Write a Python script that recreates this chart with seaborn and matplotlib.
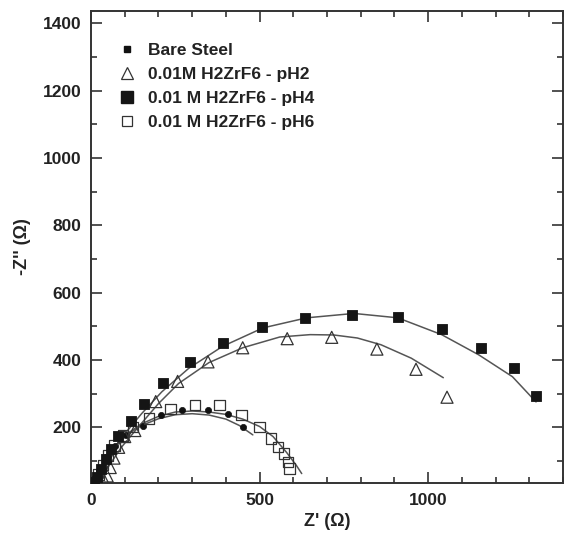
import matplotlib
matplotlib.use("Agg")
import matplotlib.pyplot as plt
from matplotlib.lines import Line2D
from matplotlib.ticker import MultipleLocator
import seaborn as sns
import pandas as pd

# ---- data ----
bare_x = [12, 25, 45, 70, 105, 153, 209, 271, 347, 406, 451]
bare_y = [40, 70, 110, 145, 178, 204, 235, 252, 252, 239, 199]

ph2_x = [40, 48, 57, 68, 82, 100, 130, 192, 257, 347, 450, 582, 714, 848, 964, 1056]
ph2_y = [40, 55, 80, 108, 140, 172, 190, 276, 336, 394, 436, 463, 467, 432, 372, 289]

ph4_x = [9, 19, 31, 45, 58, 80, 118, 157, 213, 293, 391, 508, 636, 775, 912, 1041, 1157, 1254, 1320]
ph4_y = [37, 52, 77, 105, 136, 175, 219, 270, 332, 394, 450, 497, 524, 532, 527, 492, 435, 375, 292]

ph6_x = [12, 22, 35, 50, 70, 95, 125, 172, 235, 309, 382, 447, 499, 534, 555, 572, 584, 589]
ph6_y = [40, 60, 88, 115, 145, 175, 200, 226, 254, 266, 266, 236, 201, 167, 141, 121, 97, 77]

# fitted curves
fit_bare_x = [20, 40, 70, 110, 150, 200, 250, 300, 350, 400, 440, 480]
fit_bare_y = [40, 90, 140, 180, 205, 225, 237, 240, 236, 224, 205, 177]

fit_ph2_x = [20, 50, 90, 140, 200, 260, 350, 450, 560, 650, 720, 790, 860, 950, 1045]
fit_ph2_y = [30, 80, 140, 200, 270, 330, 392, 436, 468, 475, 474, 465, 445, 405, 347]

fit_ph4_x = [0, 30, 60, 100, 150, 210, 290, 390, 510, 640, 780, 910, 1040, 1150, 1250, 1320]
fit_ph4_y = [30, 75, 125, 180, 240, 305, 375, 440, 495, 525, 538, 525, 475, 415, 350, 275]

fit_ph6_x = [10, 30, 60, 100, 150, 200, 250, 300, 350, 400, 450, 500, 540, 580, 610, 625]
fit_ph6_y = [35, 80, 130, 175, 210, 232, 245, 248, 245, 238, 224, 202, 172, 125, 85, 62]

labels = ["Bare Steel", "0.01M H2ZrF6 - pH2", "0.01 M H2ZrF6 - pH4", "0.01 M H2ZrF6 - pH6"]

x_ticks = [0, 500, 1000]
y_ticks = [200, 400, 600, 800, 1000, 1200, 1400]

# ---- style ----
sns.set_style("ticks")
plt.rcParams["font.family"] = ["Liberation Sans", "DejaVu Sans"]
plt.rcParams["font.weight"] = "bold"

fig = plt.figure(figsize=(5.66, 5.33), dpi=100)
ax = fig.add_axes([91 / 566, 1 - 483 / 533, 472 / 566, 472 / 533])

line_col = "#555555"
edge_col = "#1a1a1a"

for fx, fy in [(fit_bare_x, fit_bare_y), (fit_ph2_x, fit_ph2_y),
               (fit_ph4_x, fit_ph4_y), (fit_ph6_x, fit_ph6_y)]:
    sns.lineplot(x=fx, y=fy, sort=False, color=line_col, lw=1.1, ax=ax, zorder=2)

sns.scatterplot(x=bare_x, y=bare_y, marker="o", s=20, color="#111111",
                edgecolor="#111111", linewidth=0.5, ax=ax, zorder=3)
sns.scatterplot(x=ph2_x, y=ph2_y, marker="^", s=75, color=edge_col,
                facecolors="none", edgecolors="#333333", linewidth=0.9, ax=ax, zorder=3)
sns.scatterplot(x=ph6_x, y=ph6_y, marker="s", s=58, color=edge_col,
                facecolors="none", edgecolors="#333333", linewidth=0.9, ax=ax, zorder=3)
sns.scatterplot(x=ph4_x, y=ph4_y, marker="s", s=62, color="#151515",
                edgecolor="#151515", linewidth=0.6, ax=ax, zorder=4)

ax.set_xlim(0, 1400)
ax.set_ylim(34, 1437)
ax.set_xticks(x_ticks)
ax.set_yticks(y_ticks)
ax.xaxis.set_minor_locator(MultipleLocator(100))
ax.yaxis.set_minor_locator(MultipleLocator(100))
ax.tick_params(which="both", direction="in", top=True, right=True,
               labelsize=12.5, color="#333333", width=1.2)
ax.tick_params(which="major", length=8, pad=7)
ax.tick_params(which="minor", length=4)
for lab in ax.get_xticklabels() + ax.get_yticklabels():
    lab.set_fontweight("bold")
    lab.set_color("#222222")
for sp in ax.spines.values():
    sp.set_linewidth(1.4)
    sp.set_color("#333333")

ax.set_xlabel("Z' (\u03a9)", fontsize=13, fontweight="bold", color="#222222", labelpad=4)
ax.set_ylabel("-Z'' (\u03a9)", fontsize=13, fontweight="bold", color="#222222", labelpad=8)

handles = [
    Line2D([], [], ls="", marker="s", ms=4, color="#111111"),
    Line2D([], [], ls="", marker="^", ms=9, markerfacecolor="white",
           markeredgecolor="#333333", mew=0.9),
    Line2D([], [], ls="", marker="s", ms=8, color="#151515"),
    Line2D([], [], ls="", marker="s", ms=7, markerfacecolor="white",
           markeredgecolor="#333333", mew=0.9),
]
leg = ax.legend(handles, labels, loc="upper left", bbox_to_anchor=(0.035, 0.95),
                frameon=False, fontsize=12.5, handlelength=1.2, handletextpad=0.65,
                labelspacing=0.5, borderpad=0)
for t in leg.get_texts():
    t.set_fontweight("bold")
    t.set_color("#222222")

fig.savefig("out.png", dpi=100)
